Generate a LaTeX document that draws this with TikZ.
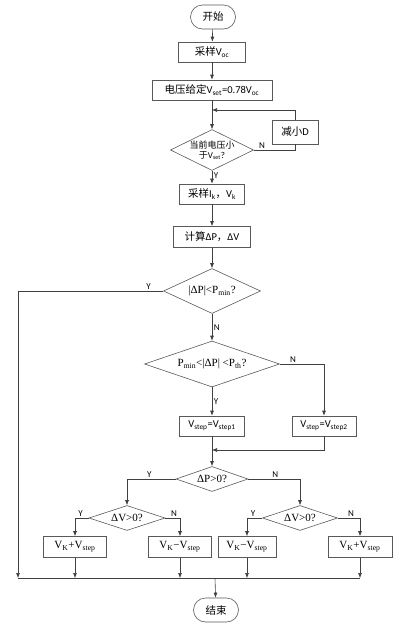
\documentclass[tikz,border=0pt]{standalone}
\usepackage{fontspec}
\setmainfont{Carlito}
\newfontfamily\cjk{Noto Sans CJK SC}
\newfontfamily\tnr{Liberation Serif}
\usetikzlibrary{arrows.meta,shapes.geometric,shapes.misc}

\begin{document}
\begin{tikzpicture}[x=1pt,y=-1pt,
    line/.style={draw=black!75, line width=0.6pt},
    arr/.style={line, -{Latex[length=5pt,width=4pt]}},
    box/.style={draw=black!65, line width=0.6pt, inner sep=0pt, minimum height=20,
        font=\fontsize{10.5}{12}\selectfont},
    term/.style={draw=black!65, line width=0.6pt, rounded rectangle, inner sep=0pt,
        minimum width=45, minimum height=24, font=\cjk\fontsize{10.5}{12}\selectfont},
    dec/.style={draw=black!65, line width=0.6pt, diamond, inner sep=0pt},
    lab/.style={font=\fontsize{9}{10}\selectfont, inner sep=1.5pt}]
    \useasboundingbox (0,0) rectangle (405,627);

    % main column
    \node[term] (start) at (213,17) {开始};
    \node[box, minimum width=67] (s1) at (212,52) {{\cjk 采样}V\textsubscript{oc}};
    \node[box, minimum width=120] (set) at (212,90) {{\cjk 电压给定}V\textsubscript{set}=0.78V\textsubscript{oc}};
    \node[dec, minimum width=83, minimum height=41,
        label={[align=center, font=\fontsize{9}{10}\selectfont]center:{\cjk 当前电压小}\\{\cjk 于}V\textsubscript{set}?}] (d1) at (212,150) {};
    \node[box, minimum width=46, minimum height=24] (rd) at (295,132) {{\cjk 减小}D};
    \coordinate (join) at (212,110);
    \node[box, minimum width=65] (s2) at (212,194) {{\cjk 采样}I\textsubscript{k}{\cjk ，}V\textsubscript{k}};
    \node[box, minimum width=77, minimum height=21] (calc) at (212,237) {{\cjk 计算}ΔP{\cjk ，}ΔV};
    \node[dec, minimum width=97, minimum height=45,
        label={[font=\tnr\fontsize{11}{12}\selectfont]center:|ΔP|<P\textsubscript{min}?}] (d2) at (212,291) {};
    \node[dec, minimum width=135, minimum height=46,
        label={[font=\tnr\fontsize{11}{12}\selectfont]center:P\textsubscript{min}<|ΔP| <P\textsubscript{th}?}] (d3) at (212,364) {};
    \node[box, minimum width=65] (v1) at (212,426) {V\textsubscript{step}=V\textsubscript{step1}};
    \node[box, minimum width=64] (v2) at (324,426) {V\textsubscript{step}=V\textsubscript{step2}};
    \coordinate (mrg) at (212,450);
    \node[dec, minimum width=72, minimum height=25,
        label={[font=\tnr\fontsize{11}{12}\selectfont]center:ΔP>0?}] (d4) at (212,479) {};
    \node[dec, minimum width=76, minimum height=25,
        label={[font=\tnr\fontsize{11}{12}\selectfont]center:ΔV>0?}] (d5) at (127,518) {};
    \node[dec, minimum width=75, minimum height=25,
        label={[font=\tnr\fontsize{11}{12}\selectfont]center:ΔV>0?}] (d6) at (300,518) {};

    % output boxes
    \node[box, font=\tnr\fontsize{11}{12}\selectfont, minimum width=63, minimum height=21] (b1) at (75,547) {V\textsubscript{K}+V\textsubscript{step}};
    \node[box, font=\tnr\fontsize{11}{12}\selectfont, minimum width=63, minimum height=21] (b2) at (180,547) {V\textsubscript{K}−V\textsubscript{step}};
    \node[box, font=\tnr\fontsize{11}{12}\selectfont, minimum width=58, minimum height=21] (b3) at (247,547) {V\textsubscript{K}−V\textsubscript{step}};
    \node[box, font=\tnr\fontsize{11}{12}\selectfont, minimum width=64, minimum height=21] (b4) at (360,547) {V\textsubscript{K}+V\textsubscript{step}};
    \coordinate (bl) at (18,578);
    \coordinate (br) at (360,578);
    \coordinate (jc) at (215,578);
    \node[term] (end) at (216,610) {结束};

    % connectors
    \draw[arr] (start) -- (s1);
    \draw[arr] (s1) -- (set);
    \draw[arr] (set) -- (d1.north);
    \draw[line] (d1.east) -- node[lab, above, pos=0.2] (n1) {N} (d1.east -| rd.south) -- (rd.south);
    \draw[arr] (rd.north) |- (join);
    \draw[arr] (d1.south) -- node[lab, right, pos=0.35] (y1) {Y} (s2.north);
    \draw[arr] (s2) -- (calc);
    \draw[arr] (calc) -- (d2.north);
    \draw[arr] (d2.west) -| node[lab, above, pos=0.05] (y2) {Y} (bl);
    \draw[arr] (d2.south) -- node[lab, right] (n2) {N} (d3.north);
    \draw[arr] (d3.east) -| node[lab, above, pos=0.15] (n3) {N} (v2.north);
    \draw[arr] (d3.south) -- node[lab, right] (y3) {Y} (v1.north);
    \draw[arr] (v2.south) |- (mrg);
    \draw[arr] (v1.south) -- (d4.north);
    \draw[arr] (d4.west) -| node[lab, above, pos=0.27] (y4) {Y} (d5.north);
    \draw[arr] (d4.east) -| node[lab, above, pos=0.26] (n4) {N} (d6.north);
    \draw[arr] (d5.west) -| node[lab, above, pos=0.3] (y5) {Y} (b1.north);
    \draw[arr] (d5.east) -| node[lab, above, pos=0.3] (n5) {N} (b2.north);
    \draw[arr] (d6.west) -| node[lab, above, pos=0.3] (y6) {Y} (b3.north);
    \draw[arr] (d6.east) -| node[lab, above, pos=0.3] (n6) {N} (b4.north);
    \draw[arr] (b1.south) -- (b1.south |- bl);
    \draw[arr] (b2.south) -- (b2.south |- bl);
    \draw[arr] (b3.south) -- (b3.south |- bl);
    \draw[arr] (b4.south) -- (b4.south |- bl);
    \draw[line] (bl) -- (br);
    \draw[arr] (jc) -- (end);
\end{tikzpicture}
\end{document}
